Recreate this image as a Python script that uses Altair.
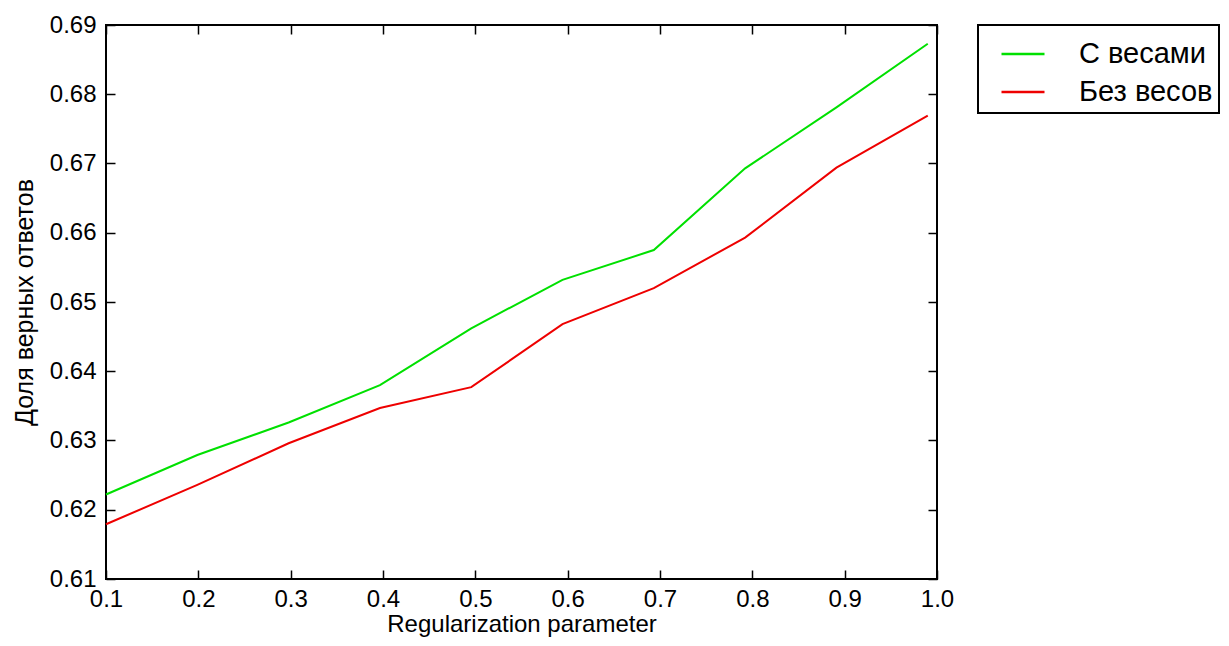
import altair as alt
import pandas as pd

x_vals = [0.1, 0.1989, 0.2978, 0.3967, 0.4956, 0.5944, 0.6933, 0.7922, 0.8911, 0.99]
with_weights = [0.6222, 0.6279, 0.6326, 0.6380, 0.6462, 0.6532, 0.6575, 0.6693, 0.6781, 0.6873]
without_weights = [0.6179, 0.6236, 0.6296, 0.6347, 0.6377, 0.6468, 0.6520, 0.6593, 0.6694, 0.6769]
series_names = ["С весами", "Без весов"]
series_colors = ["#00e000", "#ee0000"]
x_ticks = [0.1, 0.2, 0.3, 0.4, 0.5, 0.6, 0.7, 0.8, 0.9, 1.0]
y_ticks = [0.61, 0.62, 0.63, 0.64, 0.65, 0.66, 0.67, 0.68, 0.69]

rows = []
for xv, a, b in zip(x_vals, with_weights, without_weights):
    rows.append({"x": xv, "y": a, "s": series_names[0]})
    rows.append({"x": xv, "y": b, "s": series_names[1]})
df = pd.DataFrame(rows)

FONT = "Liberation Sans"
xs = alt.Scale(domain=[0.1, 1.0], nice=False, zero=False)
ys = alt.Scale(domain=[0.61, 0.69], nice=False, zero=False)

common = dict(tickSize=9, offset=-9, domain=False, grid=False, labelFlush=False,
              tickColor="black", tickWidth=1.5, labelColor="black",
              labelFont=FONT, labelFontSize=24, titleFont=FONT,
              titleFontWeight="normal", titleColor="black")

main = alt.Chart(df).mark_line(strokeWidth=2).encode(
    x=alt.X("x:Q", scale=xs,
            axis=alt.Axis(orient="bottom", values=x_ticks, format=".1f",
                          title="Regularization parameter", labelPadding=8,
                          titlePadding=1, titleFontSize=24, **common)),
    y=alt.Y("y:Q", scale=ys,
            axis=alt.Axis(orient="left", values=y_ticks, format=".2f",
                          title="Доля верных ответов", labelPadding=10,
                          titlePadding=12, titleFontSize=25, **common)),
    color=alt.Color("s:N",
                    scale=alt.Scale(domain=series_names, range=series_colors),
                    legend=alt.Legend(orient="none", legendX=872, legendY=0,
                                      title=None, labelFont=FONT, labelFontSize=29,
                                      labelColor="black",
                                      symbolType="stroke", symbolSize=1849,
                                      symbolStrokeWidth=2.5, padding=6,
                                      symbolOffset=16, labelOffset=33,
                                      rowPadding=0, strokeColor="black",
                                      fillColor="white")),
)

mirror = alt.Chart(df).mark_line(opacity=0).encode(
    x=alt.X("x:Q", scale=xs,
            axis=alt.Axis(orient="top", values=x_ticks, labels=False, title=None, **common)),
    y=alt.Y("y:Q", scale=ys,
            axis=alt.Axis(orient="right", values=y_ticks, labels=False, title=None, **common)),
    detail="s:N",
)

chart = alt.layer(main, mirror).resolve_axis(
    x="independent", y="independent"
).properties(
    width=831, height=554,
    autosize=alt.AutoSizeParams(type="none"),
    padding={"left": 98, "top": 17, "right": 284, "bottom": 59},
).configure_view(
    stroke="black", strokeWidth=2
).configure_legend(
    strokeWidth=2
)

chart.save("out.html", embed_options={"renderer": "svg", "actions": False})
